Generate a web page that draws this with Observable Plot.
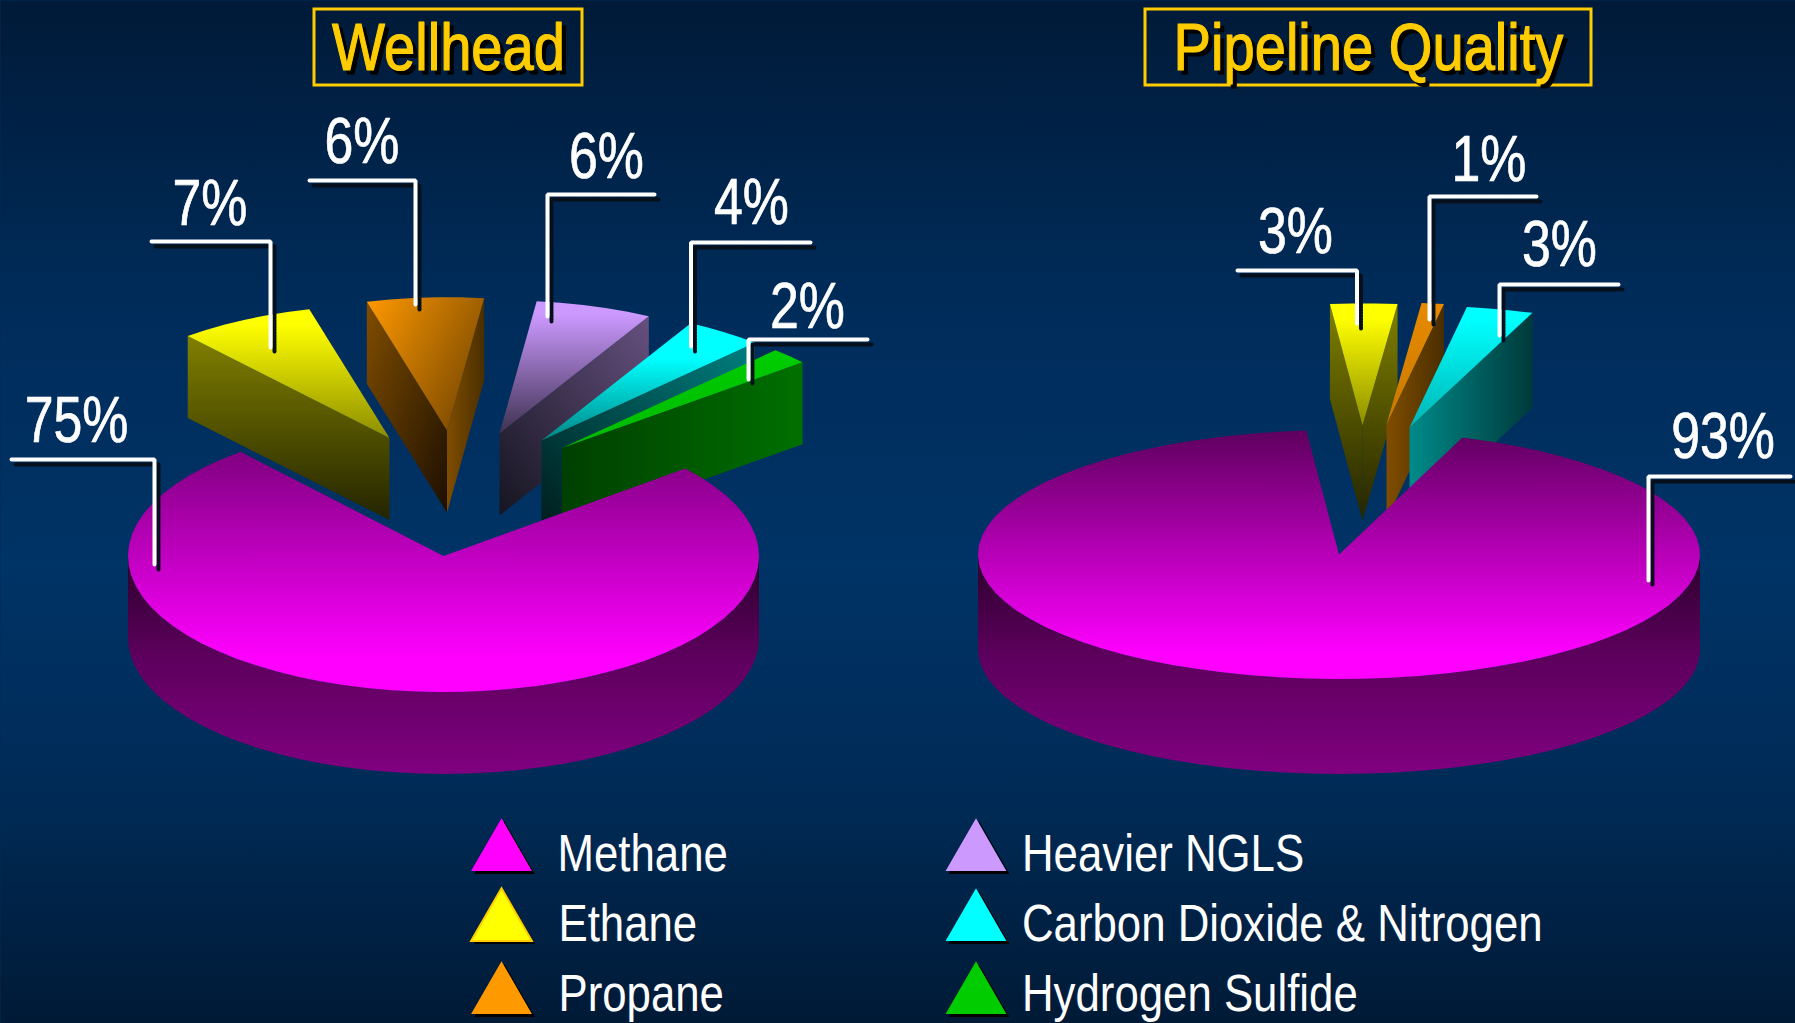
<!DOCTYPE html>
<html>
<head>
<meta charset="utf-8">
<script src="https://cdn.jsdelivr.net/npm/d3@7"></script>
<script src="https://cdn.jsdelivr.net/npm/@observablehq/plot@0.6"></script>
<style>
  html, body { margin: 0; padding: 0; background: #002a56; overflow: hidden; }
  svg { display: block; }
</style>
</head>
<body>
<script>
// Gas composition, percent by volume
const components = ["Methane", "Ethane", "Propane", "Heavier NGLS", "Carbon Dioxide & Nitrogen", "Hydrogen Sulfide"];
const wellheadShares = [75, 7, 6, 6, 4, 2];
const pipelineShares = [93, 3, 1, 0, 3, 0];
const titles = ["Wellhead", "Pipeline Quality"];
const legendColors = ["#ff00ff", "#ffff00", "#ff9900", "#cc99ff", "#00ffff", "#00cc00"];

// Pie layout: centre, radii, thickness, first slice angle in degrees clockwise from north,
// and where each pulled-out slice puts its apex
const FONT = "'Liberation Sans', sans-serif";
const PULLED_RX = 0.995, PULLED_RY = 0.98;
const wellheadPie = {
  cx: 443, cy: 555.5, rx: 315.5, ry: 136, depth: 82, start: 50,
  apex: [null, [389, 437.5], [446.5, 430], [499, 433], [541, 440], [561.5, 447.5]]
};
const pipelinePie = {
  cx: 1338.5, cy: 554, rx: 361, ry: 124.5, depth: 95, start: 20,
  apex: [null, [1362, 425], [1386, 424], null, [1409, 427], null]
};

// Leader hooks and their percent labels: [hook end, elbow, slice end, label x, label baseline]
const wellheadLeaders = [
  [[11, 459], [154, 459], [154, 564], 76, 441],
  [[151, 241], [270, 241], [270, 347], 209.5, 224],
  [[309, 180], [415, 180], [415, 304], 361.5, 162],
  [[654, 194], [547, 194], [547, 316], 606, 177.5],
  [[810, 242], [690.5, 242], [690.5, 346], 751, 223],
  [[867, 339], [748, 339], [748, 379], 807, 327]
];
const pipelineLeaders = [
  [[1790, 476], [1648, 476], [1648, 580], 1722.5, 457],
  [[1237, 270], [1356.5, 270], [1356.5, 323], 1295, 252.5],
  [[1536, 196], [1429, 196], [1429, 319], 1488.5, 180],
  null,
  [[1618, 284], [1499, 284], [1499, 335], 1559, 265],
  null
];

const titleBoxes = [
  {title: titles[0], x1: 314, x2: 582, y1: 9, y2: 85, x: 448, y: 69},
  {title: titles[1], x1: 1145, x2: 1591, y1: 9, y2: 85, x: 1368, y: 69}
];
const legendSlots = [
  {x: 501, y: 853, tx: 557, ty: 870},
  {x: 501, y: 923, tx: 558, ty: 940.5},
  {x: 501, y: 996, tx: 558, ty: 1010.5},
  {x: 975.5, y: 853, tx: 1021.5, ty: 870},
  {x: 975.5, y: 923, tx: 1021.5, ty: 940.5},
  {x: 975.5, y: 996, tx: 1021.5, ty: 1010.5}
];

// Gradient paints, box-relative: [x1, y1, x2, y2] and colour stops
const DOWN = [0, 0, 0, 1], RIGHT = [0, 0, 1, 0];
const DIAG = [0, 0, 1, 1], ANTI = [1, 0, 0, 1];
const paints = {
  backdrop: [DOWN, [[0, "#001a38"], [0.3, "#002c5a"], [0.55, "#003366"], [0.77, "#002b57"], [1, "#001a36"]]],
  methaneWell: [DOWN, [[0, "#800080"], [0.86, "#ff00ff"], [1, "#ff00ff"]]],
  methanePipe: [DOWN, [[0, "#5e005e"], [0.9, "#ff00ff"], [1, "#ff00ff"]]],
  methaneSide: [DOWN, [[0, "#2a002a"], [0.45, "#5c005c"], [1, "#800080"]]],
  ethaneTop: [DOWN, [[0.12, "#ffff00"], [1, "#8c8c00"]]],
  ethaneFace: [DOWN, [[0, "#808000"], [1, "#242400"]]],
  propaneTop: [[0, 0, 1, 0.6], [[0, "#ff9900"], [1, "#7f4c00"]]],
  propaneLeft: [DIAG, [[0, "#804d00"], [1, "#1c0f00"]]],
  propaneRight: [RIGHT, [[0, "#804d00"], [1, "#4a2e00"]]],
  propanePipeTop: [DOWN, [[0, "#e88a00"], [1, "#c87800"]]],
  ngltop: [DOWN, [[0.1, "#cc99ff"], [1, "#3d3150"]]],
  nglFace: [ANTI, [[0, "#66507f"], [1, "#151520"]]],
  co2Top: [DOWN, [[0.3, "#00ffff"], [1, "#008484"]]],
  co2Face: [ANTI, [[0, "#008080"], [1, "#001e1e"]]],
  co2PipeTop: [DOWN, [[0.1, "#00ffff"], [1, "#00b4b4"]]],
  co2PipeFace: [RIGHT, [[0, "#008a8a"], [1, "#003a3a"]]],
  h2sTop: [DOWN, [[0, "#00cc00"], [1, "#00bb00"]]],
  h2sFace: [RIGHT, [[0, "#003f00"], [1, "#007000"]]]
};

const wellheadPaints = [
  {top: "methaneWell", side: "methaneSide"},
  {top: "ethaneTop", left: "ethaneFace", right: "ethaneFace"},
  {top: "propaneTop", left: "propaneLeft", right: "propaneRight"},
  {top: "ngltop", left: "nglFace", right: "nglFace"},
  {top: "co2Top", left: "co2Face", right: "co2Face"},
  {top: "h2sTop", left: "h2sFace", right: "h2sFace"}
];
const pipelinePaints = [
  {top: "methanePipe", side: "methaneSide"},
  {top: "ethaneTop", left: "ethaneFace", right: "ethaneFace"},
  {top: "propanePipeTop", left: "propaneRight", right: "propaneRight"},
  null,
  {top: "co2PipeTop", left: "co2PipeFace", right: "co2PipeFace"},
  null
];

const url = id => `url(#${id})`;

// Writes the gradient definitions into the plot's svg
function gradientDefs() {
  const defs = d3.create("svg:defs");
  for (const [id, [[x1, y1, x2, y2], stops]] of Object.entries(paints)) {
    const g = defs.append("linearGradient").attr("id", id)
      .attr("x1", x1).attr("y1", y1).attr("x2", x2).attr("y2", y2);
    for (const [offset, color] of stops) g.append("stop").attr("offset", offset).attr("stop-color", color);
  }
  return defs.node();
}

// Squeezes a text mark horizontally, since no condensed face is installed,
// and optionally gives it a hard drop shadow
const squeeze = (sx, shadow) => function (index, scales, values, dimensions, context, next) {
  const g = next(index, scales, values, dimensions, context);
  d3.select(g).selectAll("text").attr("transform", function () {
    return `${this.getAttribute("transform") ?? ""} scale(${sx},1)`;
  });
  if (shadow) g.style.filter = shadow;
  return g;
};

// One filled polygon in the chart's x/y scales
const polygon = (points, fill) => Plot.line(points, {x: d => d[0], y: d => d[1], fill, stroke: "none", curve: "linear-closed"});

function pieMarks(shares, pie, slicePaints) {
  const {cx, cy, rx, ry, depth, start} = pie;
  const s = start * Math.PI / 180;
  const arcs = d3.pie().sort(null).startAngle(s).endAngle(s + 2 * Math.PI)(shares);
  const marks = [];
  // Pulled-out slices first, back to front, then the large slice over them
  for (const i of [1, 2, 3, 4, 5, 0]) {
    const arc = arcs[i];
    if (!(shares[i] > 0)) continue;
    const c = pie.apex[i] ?? [cx, cy];
    const kx = pie.apex[i] ? PULLED_RX : 1, ky = pie.apex[i] ? PULLED_RY : 1;
    const at = (a, dy = 0) => [c[0] + kx * rx * Math.sin(a), c[1] - ky * ry * Math.cos(a) + dy];
    const sweep = (a0, a1, dy = 0) => {
      const n = Math.max(1, Math.ceil((a1 - a0) / (4.5 * Math.PI / 180)));
      return d3.range(n + 1).map(j => at(a0 + (a1 - a0) * j / n, dy));
    };
    const p = slicePaints[i];
    if (p.side) {
      const a0 = Math.max(arc.startAngle, Math.PI / 2), a1 = Math.min(arc.endAngle, 3 * Math.PI / 2);
      marks.push(polygon([...sweep(a0, a1), ...sweep(a0, a1, depth).reverse()], url(p.side)));
    } else {
      // A cut face shows only when its rim corner lies on the outer side of the apex
      const face = (a, fill) => {
        const q = at(a);
        return polygon([c, q, [q[0], q[1] + depth], [c[0], c[1] + depth]], url(fill));
      };
      if (Math.sin(arc.startAngle) < 0) marks.push(face(arc.startAngle, p.left));
      if (Math.sin(arc.endAngle) > 0) marks.push(face(arc.endAngle, p.right));
    }
    marks.push(polygon([c, ...sweep(arc.startAngle, arc.endAngle)], url(p.top)));
  }
  return marks;
}

function leaderMarks(shares, leaders) {
  const marks = [];
  shares.forEach((v, i) => {
    if (!(v > 0)) return;
    const hook = leaders[i].slice(0, 3);
    const line = {x: d => d[0], y: d => d[1], curve: "linear"};
    marks.push(
      Plot.line(hook, {...line, stroke: "#06101c", strokeWidth: 4, strokeDasharray: "2 1", dx: 4, dy: 5, strokeLinejoin: "miter"}),
      Plot.line(hook, {...line, stroke: "#ffffff", strokeWidth: 4, strokeLinejoin: "miter"}),
      Plot.text([`${v}%`], {x: () => leaders[i][3], y: () => leaders[i][4], text: d => d, fill: "#ffffff", stroke: "#ffffff", strokeWidth: 0.7, fontSize: 64, fontFamily: FONT, textAnchor: "middle", lineAnchor: "bottom", render: squeeze(0.81)})
    );
  });
  return marks;
}

const legend = components.map((name, i) => ({name, color: legendColors[i], ...legendSlots[i]}));

const chart = Plot.plot({
  width: 1795,
  height: 1023,
  margin: 0,
  x: {domain: [0, 1795], range: [0, 1795], axis: null},
  y: {domain: [0, 1023], range: [0, 1023], axis: null},
  style: {background: "#002a56"},
  marks: [
    gradientDefs,
    Plot.frame({fill: url("backdrop"), stroke: "none"}),

    ...pieMarks(wellheadShares, wellheadPie, wellheadPaints),
    ...pieMarks(pipelineShares, pipelinePie, pipelinePaints),
    ...leaderMarks(wellheadShares, wellheadLeaders),
    ...leaderMarks(pipelineShares, pipelineLeaders),

    // Boxed headings with a hard drop shadow
    Plot.rect(titleBoxes, {x1: "x1", x2: "x2", y1: "y1", y2: "y2", fill: "none", stroke: "#ffcc00", strokeWidth: 3}),
    Plot.text(titleBoxes, {x: "x", y: "y", text: "title", fill: "#ffcc00", stroke: "#ffcc00", strokeWidth: 1.2, fontSize: 66, fontFamily: FONT, textAnchor: "middle", lineAnchor: "bottom", render: squeeze(0.85, "drop-shadow(4px 4px 0 #000000)")}),

    // Legend
    Plot.dot(legend, {x: "x", y: "y", dx: 3, dy: 3, r: 22.6, symbol: "triangle", fill: "#000000", stroke: "none"}),
    Plot.dot(legend, {x: "x", y: "y", r: 22.6, symbol: "triangle", fill: "color", stroke: d => d.name === "Ethane" ? "#ffcc00" : "none", strokeWidth: 2}),
    Plot.text(legend, {x: "tx", y: "ty", text: "name", fill: "#ffffff", fontSize: 52, fontFamily: FONT, textAnchor: "start", lineAnchor: "bottom", render: squeeze(0.842)})
  ]
});
document.body.appendChild(chart);
</script>
</body>
</html>
